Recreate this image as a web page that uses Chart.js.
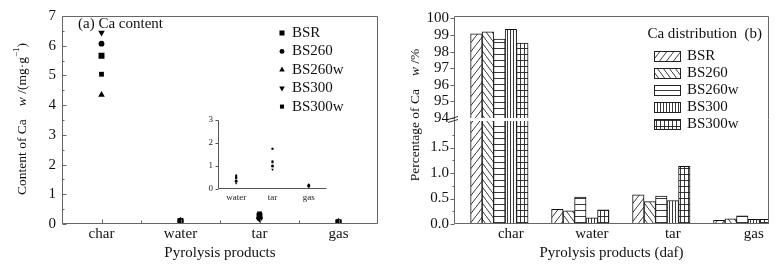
<!DOCTYPE html>
<html>
<head>
<meta charset="utf-8">
<script src="https://cdn.jsdelivr.net/npm/chart.js@4.4.0/dist/chart.umd.min.js"></script>
<style>
  html, body { margin: 0; padding: 0; background: #fff; }
  #wrap { position: relative; width: 783px; height: 268px; }
  #wrap canvas { position: absolute; left: 0; top: 0; }
</style>
</head>
<body>
<div id="wrap">
  <canvas id="contentChart" width="783" height="268"></canvas>
  <canvas id="insetChart" width="783" height="268"></canvas>
  <canvas id="distTop" width="783" height="268"></canvas>
  <canvas id="distBottom" width="783" height="268"></canvas>
</div>
<script>
// series and categories
const series = ["BSR", "BS260", "BS260w", "BS300", "BS300w"];
const products = ["char", "water", "tar", "gas"];
const insetProducts = ["water", "tar", "gas"];

// (a) Ca content, mg/g  (char, water, tar, gas)
const contentBSR    = [5.66, 0.10, 0.27, 0.06];
const contentBS260  = [6.07, 0.09, 0.19, 0.07];
const contentBS260w = [4.35, 0.12, 0.22, 0.08];
const contentBS300  = [6.44, 0.08, 0.17, 0.06];
const contentBS300w = [5.04, 0.10, 0.34, 0.05];

// inset (water, tar, gas)
const insetBSR    = [0.53, 1.20, 0.12];
const insetBS260  = [0.35, 1.00, 0.15];
const insetBS260w = [0.60, 1.15, 0.20];
const insetBS300  = [0.25, 0.85, 0.10];
const insetBS300w = [0.47, 1.75, 0.13];

// (b) Ca distribution, %  (char, water, tar, gas)
const distBSR    = [99.07, 0.29, 0.57, 0.07];
const distBS260  = [99.20, 0.26, 0.44, 0.10];
const distBS260w = [98.76, 0.53, 0.55, 0.16];
const distBS300  = [99.35, 0.12, 0.46, 0.09];
const distBS300w = [98.52, 0.28, 1.13, 0.09];

// ticks
const contentTicks = [0, 1, 2, 3, 4, 5, 6, 7];
const contentMinor = [0.5, 1.5, 2.5, 3.5, 4.5, 5.5, 6.5];
const insetTicks = [0, 1, 2, 3];
const distUpperTicks = [94, 95, 96, 97, 98, 99, 100];
const distLowerTicks = [0, 0.5, 1.0, 1.5];
const distLowerMinor = [0.25, 0.75, 1.25, 1.75];

const serif = "'Liberation Serif', 'DejaVu Serif', serif";
const ink = "#111";
const frameColor = "#666";

// hatch patterns for the bars
function makePattern(kind) {
  const c = document.createElement("canvas");
  let w = 7, h = 9;
  if (kind === "back") { w = 6; h = 8; }
  if (kind === "hline") { w = 4; h = 6; }
  if (kind === "vline") { w = 3; h = 4; }
  if (kind === "grid") { w = 4; h = 6; }
  c.width = w; c.height = h;
  const ctx = c.getContext("2d");
  ctx.fillStyle = "#fff";
  ctx.fillRect(0, 0, w, h);
  ctx.strokeStyle = "#222";
  ctx.lineWidth = 0.9;
  ctx.beginPath();
  if (kind === "slash") {
    ctx.moveTo(-w, 2 * h); ctx.lineTo(2 * w, -h);
  } else if (kind === "back") {
    ctx.moveTo(-w, -h); ctx.lineTo(2 * w, 2 * h);
  } else if (kind === "hline") {
    ctx.moveTo(0, 0.5); ctx.lineTo(w, 0.5);
  } else if (kind === "vline") {
    ctx.moveTo(0.5, 0); ctx.lineTo(0.5, h);
  } else if (kind === "grid") {
    ctx.moveTo(0, 0.5); ctx.lineTo(w, 0.5);
    ctx.moveTo(0.5, 0); ctx.lineTo(0.5, h);
  }
  ctx.stroke();
  return c;
}
const patternKinds = ["slash", "back", "hline", "vline", "grid"];
const patternTiles = patternKinds.map(makePattern);
function patternsFor(canvas) {
  const ctx = canvas.getContext("2d");
  return patternTiles.map((t) => ctx.createPattern(t, "repeat"));
}

// frame + tick marks drawn through the chart scales
const axisDecor = {
  id: "axisDecor",
  afterDraw(chart, args, opts) {
    const { ctx, chartArea: a, scales } = chart;
    const L = Math.round(a.left) + 0.5, R = Math.round(a.right) - 0.5;
    const T = Math.round(a.top) + 0.5, B = Math.round(a.bottom) - 0.5;
    ctx.save();
    ctx.strokeStyle = opts.color || frameColor;
    ctx.lineWidth = 1;
    ctx.beginPath();
    const ext = opts.extend || {};
    (opts.sides || []).forEach((s) => {
      if (s === "left") { ctx.moveTo(L, T - (ext.top || 0)); ctx.lineTo(L, B + (ext.bottom || 0)); }
      if (s === "right") { ctx.moveTo(R, T - (ext.top || 0)); ctx.lineTo(R, B + (ext.bottom || 0)); }
      if (s === "top") { ctx.moveTo(L, T); ctx.lineTo(R, T); }
      if (s === "bottom") { ctx.moveTo(L, B); ctx.lineTo(R, B); }
    });
    (opts.marks || []).forEach((m) => {
      const sc = scales[m.axis];
      m.values.forEach((v) => {
        if (m.axis === "y") {
          const y = Math.round(sc.getPixelForValue(v)) + 0.5;
          ctx.moveTo(L, y); ctx.lineTo(L + m.len, y);
        } else {
          const x = Math.round(sc.getPixelForValue(v)) + 0.5;
          ctx.moveTo(x, B); ctx.lineTo(x, B - m.len);
        }
      });
    });
    ctx.stroke();
    ctx.restore();
  }
};

// vertical axis title with mixed fonts
const titleFont = "13.5px " + serif;
function drawVerticalRich(ctx, cx, cy, parts) {
  ctx.save();
  ctx.translate(cx, cy);
  ctx.rotate(-Math.PI / 2);
  ctx.textBaseline = "middle";
  ctx.textAlign = "left";
  ctx.fillStyle = ink;
  let total = 0;
  parts.forEach((p) => {
    ctx.font = p.font || titleFont;
    p.w = p.text ? ctx.measureText(p.text).width : p.gap;
    total += p.w;
  });
  let x = -total / 2;
  parts.forEach((p) => {
    if (p.text) {
      ctx.font = p.font || titleFont;
      ctx.fillText(p.text, x, p.dy || 0);
    }
    x += p.w;
  });
  ctx.restore();
}

const pointStyles = [
  { pointStyle: "rect", pointRadius: 4.2, pointRotation: 0 },
  { pointStyle: "circle", pointRadius: 2.9, pointRotation: 0 },
  { pointStyle: "triangle", pointRadius: 3.8, pointRotation: 0 },
  { pointStyle: "triangle", pointRadius: 3.8, pointRotation: 180 },
  { pointStyle: "rect", pointRadius: 3.4, pointRotation: 0 }
];

// extras for chart (a): label, legend, y title
const contentExtras = {
  id: "contentExtras",
  afterDraw(chart) {
    const ctx = chart.ctx;
    ctx.save();
    ctx.fillStyle = ink;
    ctx.font = "15px " + serif;
    ctx.textBaseline = "middle";
    ctx.textAlign = "left";
    ctx.fillText("(a) Ca content", 78, 24);
    series.forEach((name, i) => {
      const y = 33 + i * 18.4;
      const st = pointStyles[i];
      ctx.fillStyle = "#000";
      Chart.helpers.drawPoint(ctx, { pointStyle: st.pointStyle, radius: st.pointRadius * 0.85, rotation: st.pointRotation, borderWidth: 0 }, 282, y);
      ctx.fillStyle = ink;
      ctx.fillText(name, 292, y);
    });
    ctx.restore();
    drawVerticalRich(ctx, 22, 119, [
      { text: "Content of Ca" },
      { gap: 13 },
      { text: "w", font: "italic 13.5px " + serif },
      { text: " /(mg\u00b7g" },
      { text: "\u22121", font: "9px " + serif, dy: -5 },
      { text: ")" }
    ]);
  }
};

const tickFont = { family: serif, size: 15 };

new Chart(document.getElementById("contentChart"), {
  type: "line",
  data: {
    labels: products,
    datasets: [contentBSR, contentBS260, contentBS260w, contentBS300, contentBS300w].map((d, i) => ({
      label: series[i],
      data: d,
      showLine: false,
      pointStyle: pointStyles[i].pointStyle,
      pointRadius: pointStyles[i].pointRadius,
      pointRotation: pointStyles[i].pointRotation,
      pointBackgroundColor: "#000",
      pointBorderColor: "#000",
      pointBorderWidth: 0
    }))
  },
  options: {
    responsive: false,
    animation: false,
    devicePixelRatio: 1,
    events: [],
    layout: { padding: { left: 0, right: 405, top: 16, bottom: 0 } },
    plugins: {
      legend: { display: false },
      tooltip: { enabled: false },
      axisDecor: {
        sides: ["left", "right", "top", "bottom"],
        marks: [
          { axis: "y", values: contentTicks, len: 4 },
          { axis: "y", values: contentMinor, len: 2 },
          { axis: "x", values: [0, 1, 2, 3], len: 4 },
          { axis: "x", values: [0.5, 1.5, 2.5], len: 3 }
        ]
      }
    },
    scales: {
      x: {
        type: "category",
        offset: true,
        grid: { display: false, drawTicks: false },
        border: { display: false },
        ticks: { font: tickFont, color: ink, padding: 1 },
        title: { display: true, text: "Pyrolysis products", font: tickFont, color: ink, padding: { top: 0, bottom: 6 } },
        afterFit(s) { s.height = 44; }
      },
      y: {
        min: 0,
        max: 7,
        grid: { display: false, drawTicks: false },
        border: { display: false },
        afterBuildTicks(s) { s.ticks = contentTicks.map((v) => ({ value: v })); },
        ticks: { font: tickFont, color: ink, padding: 6, autoSkip: false },
        afterFit(s) { s.width = 62; }
      }
    }
  },
  plugins: [axisDecor, contentExtras]
});

// inset
const insetFont = { family: serif, size: 9 };
new Chart(document.getElementById("insetChart"), {
  type: "line",
  data: {
    labels: insetProducts,
    datasets: [insetBSR, insetBS260, insetBS260w, insetBS300, insetBS300w].map((d, i) => ({
      label: series[i],
      data: d,
      showLine: false,
      pointStyle: pointStyles[i].pointStyle,
      pointRadius: 1.5,
      pointRotation: pointStyles[i].pointRotation,
      pointBackgroundColor: "#000",
      pointBorderColor: "#000",
      pointBorderWidth: 0
    }))
  },
  options: {
    responsive: false,
    animation: false,
    devicePixelRatio: 1,
    events: [],
    layout: { padding: { left: 188, right: 456, top: 120, bottom: 63 } },
    plugins: {
      legend: { display: false },
      tooltip: { enabled: false },
      axisDecor: {
        color: "#555",
        sides: ["left", "bottom"],
        marks: [{ axis: "y", values: insetTicks, len: -3 }]
      }
    },
    scales: {
      x: {
        type: "category",
        offset: true,
        grid: { display: false, drawTicks: false },
        border: { display: false },
        ticks: { font: insetFont, color: "#222", padding: 3 },
        afterFit(s) { s.height = 16; }
      },
      y: {
        min: 0,
        max: 3,
        grid: { display: false, drawTicks: false },
        border: { display: false },
        afterBuildTicks(s) { s.ticks = insetTicks.map((v) => ({ value: v })); },
        ticks: { font: insetFont, color: "#222", padding: 5, autoSkip: false },
        afterFit(s) { s.width = 30; }
      }
    }
  },
  plugins: [axisDecor]
});

// (b) Ca distribution: broken y axis drawn as two stacked charts
const distSeries = [distBSR, distBS260, distBS260w, distBS300, distBS300w];
function distDatasets(canvas) {
  const pats = patternsFor(canvas);
  return distSeries.map((d, i) => ({
    label: series[i],
    data: d.map((v, j) => ({ x: j + 1, y: v })),
    backgroundColor: pats[i],
    borderColor: "#111",
    borderWidth: 1,
    barThickness: 11.5,
    clip: 0
  }));
}
const distX = { type: "linear", min: 0.44, max: 4.33, offset: false };

const topCanvas = document.getElementById("distTop");
new Chart(topCanvas, {
  type: "bar",
  data: { datasets: distDatasets(topCanvas) },
  options: {
    responsive: false,
    animation: false,
    devicePixelRatio: 1,
    events: [],
    layout: { padding: { left: 390, right: 14, top: 16, bottom: 150 } },
    plugins: {
      legend: { display: false },
      tooltip: { enabled: false },
      axisDecor: {
        sides: ["left", "right", "top"],
        extend: { bottom: 2 },
        marks: [{ axis: "y", values: distUpperTicks, len: -4 }]
      }
    },
    scales: {
      x: Object.assign({}, distX, {
        grid: { display: false, drawTicks: false },
        border: { display: false },
        ticks: { display: false },
        afterBuildTicks(s) { s.ticks = [1, 2, 3, 4].map((v) => ({ value: v })); },
        afterFit(s) { s.height = 0; }
      }),
      y: {
        min: 94,
        max: 100.15,
        grid: { display: false, drawTicks: false },
        border: { display: false },
        afterBuildTicks(s) { s.ticks = distUpperTicks.map((v) => ({ value: v })); },
        ticks: { font: tickFont, color: ink, padding: 5, autoSkip: false },
        afterFit(s) { s.width = 64; }
      }
    }
  },
  plugins: [axisDecor]
});

const bottomCanvas = document.getElementById("distBottom");
const legendPats = patternsFor(bottomCanvas);
const distExtras = {
  id: "distExtras",
  afterDraw(chart) {
    const ctx = chart.ctx;
    ctx.save();
    // axis break marks
    ctx.strokeStyle = "#333";
    ctx.lineWidth = 1;
    ctx.beginPath();
    ctx.moveTo(448, 119.5); ctx.lineTo(458, 116.5);
    ctx.moveTo(448, 122.5); ctx.lineTo(458, 119.5);
    ctx.stroke();
    // title + legend
    ctx.fillStyle = ink;
    ctx.font = "15px " + serif;
    ctx.textBaseline = "middle";
    ctx.textAlign = "right";
    ctx.fillText("Ca distribution  (b)", 762, 34);
    ctx.textAlign = "left";
    series.forEach((name, i) => {
      const y = 56 + i * 17;
      ctx.fillStyle = legendPats[i];
      ctx.fillRect(654, y - 5, 27, 10);
      ctx.strokeStyle = "#222";
      ctx.strokeRect(654.5, y - 4.5, 26, 10);
      ctx.fillStyle = ink;
      ctx.fillText(name, 687, y);
    });
    ctx.restore();
    drawVerticalRich(ctx, 415, 115, [
      { text: "Percentage of Ca" },
      { gap: 13 },
      { text: "w", font: "italic 13.5px " + serif },
      { text: " /%" }
    ]);
  }
};

new Chart(bottomCanvas, {
  type: "bar",
  data: { datasets: distDatasets(bottomCanvas) },
  options: {
    responsive: false,
    animation: false,
    devicePixelRatio: 1,
    events: [],
    layout: { padding: { left: 390, right: 14, top: 121, bottom: 0 } },
    plugins: {
      legend: { display: false },
      tooltip: { enabled: false },
      axisDecor: {
        sides: ["left", "right", "bottom"],
        extend: { top: 2 },
        marks: [
          { axis: "y", values: distLowerTicks, len: -4 },
          { axis: "y", values: distLowerMinor, len: -2 }
        ]
      }
    },
    scales: {
      x: Object.assign({}, distX, {
        grid: { display: false, drawTicks: false },
        border: { display: false },
        afterBuildTicks(s) { s.ticks = [1, 2, 3, 4].map((v) => ({ value: v })); },
        ticks: {
          font: tickFont,
          color: ink,
          padding: 1,
          labelOffset: 11.5,
          autoSkip: false,
          callback: (v) => products[Math.round(v) - 1]
        },
        title: { display: true, text: "Pyrolysis products (daf)", font: tickFont, color: ink, padding: { top: 0, bottom: 6 } },
        afterFit(s) { s.height = 44; }
      }),
      y: {
        min: 0,
        max: 2.02,
        grid: { display: false, drawTicks: false },
        border: { display: false },
        afterBuildTicks(s) { s.ticks = distLowerTicks.map((v) => ({ value: v })); },
        ticks: { font: tickFont, color: ink, padding: 5, autoSkip: false, callback: (v) => v.toFixed(1) },
        afterFit(s) { s.width = 64; }
      }
    }
  },
  plugins: [axisDecor, distExtras]
});
</script>
</body>
</html>
